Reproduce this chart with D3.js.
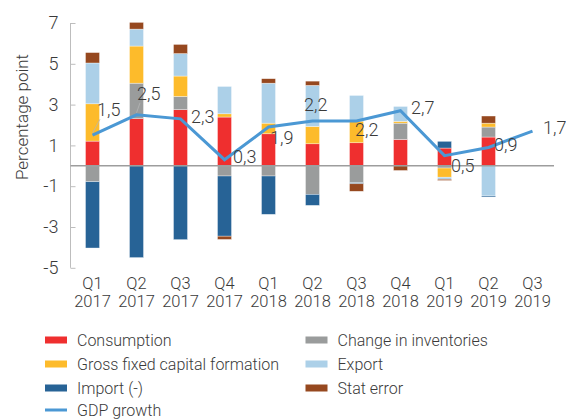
<!DOCTYPE html>
<html>
<head>
<meta charset="utf-8">
<script src="https://cdn.jsdelivr.net/npm/d3@7"></script>
<style>
  body { margin: 0; background: #fff; }
  svg text { font-family: Roboto, "DejaVu Sans", sans-serif; fill: #3a3a3a; font-weight: 300; }
</style>
</head>
<body>
<div class="chart"></div>
<script>
// DATA //
var quarters = ['Q1 2017', 'Q2 2017', 'Q3 2017', 'Q4 2017', 'Q1 2018', 'Q2 2018',
                'Q3 2018', 'Q4 2018', 'Q1 2019', 'Q2 2019', 'Q3 2019'];
var consumption = [1.21, 2.31, 2.75, 2.39, 1.57, 1.08, 1.13, 1.29, 0.87, 1.41, 0];
var inventories = [-0.78, 1.74, 0.65, -0.50, -0.50, -1.40, -0.83, 0.80, -0.11, 0.49, 0];
var gfcf        = [1.83, 1.82, 1.00, 0.16, 0.52, 0.85, 1.06, 0.09, -0.45, 0.19, 0];
var exports_    = [2.00, 0.83, 1.10, 1.34, 1.96, 2.01, 1.26, 0.73, -0.10, -1.48, 0];
var imports_    = [-3.25, -4.50, -3.62, -2.95, -1.88, -0.54, -0.05, 0, 0.33, -0.05, 0];
var statError   = [0.51, 0.33, 0.45, -0.16, 0.22, 0.21, -0.37, -0.23, -0.06, 0.35, 0];
var gdpGrowth   = [1.5, 2.5, 2.3, 0.3, 1.9, 2.2, 2.2, 2.7, 0.5, 0.9, 1.7];
var yTicks = [7, 5, 3, 1, -1, -3, -5];

var series = [
  {key: 'Consumption', values: consumption, color: '#ef2f2f'},
  {key: 'Change in inventories', values: inventories, color: '#9a9c9c'},
  {key: 'Gross fixed capital formation', values: gfcf, color: '#fdbb2b'},
  {key: 'Export', values: exports_, color: '#acd0e8'},
  {key: 'Import (-)', values: imports_, color: '#276396'},
  {key: 'Stat error', values: statError, color: '#96481f'}
];

// label offsets (dx, dy) from each GDP point
var labelOffsets = [[4.5, -19], [0.5, -15], [10.5, 4.5], [8.5, 3], [1.5, 16.5], [-8.5, -9.5],
                    [-1.5, 15.5], [10.5, 3.7], [6.5, 16], [5.5, 4], [10.5, 3.3]];

var width = 566, height = 419;
var svg = d3.select('.chart').append('svg')
    .attr('width', width)
    .attr('height', height);

var xScale = d3.scaleBand().domain(quarters).range([70.5, 554.5]);
var yScale = d3.scaleLinear().domain([-5, 7]).range([267.8, 23]);
var barW = 14;

var table = quarters.map(function(q, i) {
    var row = {q: q};
    series.forEach(function(s) { row[s.key] = s.values[i]; });
    return row;
});

var stack = d3.stack()
    .keys(series.map(function(s) { return s.key; }))
    .offset(d3.stackOffsetDiverging);
var stacked = stack(table);

// Y AXIS //
var yAxis = svg.append('g')
    .attr('transform', 'translate(70.5,0)')
    .call(d3.axisLeft(yScale).tickValues(yTicks).tickSize(-5).tickPadding(12)
        .tickFormat(function(d) { return String(d); }));
yAxis.select('.domain').attr('stroke', '#bdbdbd').attr('d', 'M0,' + yScale(7) + 'V' + yScale(-5));
yAxis.selectAll('.tick line').attr('stroke', '#bdbdbd');
yAxis.selectAll('.tick text').style('font-size', '18px').attr('fill', '#3a3a3a');

svg.append('text')
    .attr('transform', 'translate(28,' + 117 + ') rotate(-90)')
    .attr('text-anchor', 'middle')
    .style('font-size', '17px')
    .text('Percentage point');

// BARS //
var groups = svg.selectAll('.series')
    .data(stacked)
    .enter().append('g')
    .attr('fill', function(d, i) { return series[i].color; });

groups.selectAll('rect')
    .data(function(d) { return d; })
    .enter().append('rect')
    .attr('x', function(d) { return xScale(d.data.q) + xScale.bandwidth() / 2 - barW / 2; })
    .attr('width', barW)
    .attr('y', function(d) { return yScale(Math.max(d[0], d[1])); })
    .attr('height', function(d) { return Math.abs(yScale(d[0]) - yScale(d[1])); })
    .attr('stroke', '#fff')
    .attr('stroke-width', 0.6)
    .attr('stroke-opacity', 0.6);

// zero line
svg.append('line')
    .attr('x1', 70.5).attr('x2', 554)
    .attr('y1', yScale(0)).attr('y2', yScale(0))
    .attr('stroke', '#9d9d9d')
    .attr('stroke-width', 1.5);

// X LABELS //
var xLabels = svg.selectAll('.xlab')
    .data(quarters)
    .enter().append('text')
    .attr('text-anchor', 'middle')
    .style('font-size', '16.5px')
    .attr('x', function(d) { return xScale(d) + xScale.bandwidth() / 2; });
xLabels.append('tspan').attr('y', 289).attr('x', function(d) { return xScale(d) + xScale.bandwidth() / 2; })
    .text(function(d) { return d.split(' ')[0]; });
xLabels.append('tspan').attr('y', 307).attr('x', function(d) { return xScale(d) + xScale.bandwidth() / 2; })
    .text(function(d) { return d.split(' ')[1]; });

// GDP LINE //
var line = d3.line()
    .x(function(d, i) { return xScale(quarters[i]) + xScale.bandwidth() / 2; })
    .y(function(d) { return yScale(d); });

svg.append('path')
    .datum(gdpGrowth)
    .attr('fill', 'none')
    .attr('stroke', '#4b98d4')
    .attr('stroke-width', 3)
    .attr('d', line);

// leader lines for first two labels
[0, 1].forEach(function(i) {
    var cx = xScale(quarters[i]) + xScale.bandwidth() / 2, cy = yScale(gdpGrowth[i]);
    svg.append('line')
        .attr('x1', cx).attr('y1', cy - 2)
        .attr('x2', cx + labelOffsets[i][0] + 3).attr('y2', cy + labelOffsets[i][1] + 3)
        .attr('stroke', '#b5b5b5').attr('stroke-width', 0.8);
});

var fmt = d3.format('.1f');
svg.selectAll('.gdplab')
    .data(gdpGrowth)
    .enter().append('text')
    .style('font-size', '18px')
    .attr('x', function(d, i) { return xScale(quarters[i]) + xScale.bandwidth() / 2 + labelOffsets[i][0]; })
    .attr('y', function(d, i) { return yScale(d) + labelOffsets[i][1]; })
    .text(function(d) { return fmt(d).replace('.', ','); });

// LEGEND //
var legendItems = [
  {key: 'Consumption', col: 0, row: 0},
  {key: 'Change in inventories', col: 1, row: 0},
  {key: 'Gross fixed capital formation', col: 0, row: 1},
  {key: 'Export', col: 1, row: 1},
  {key: 'Import (-)', col: 0, row: 2},
  {key: 'Stat error', col: 1, row: 2}
];
var colX = [45, 305.5], rowY = [340, 364, 388, 410];
var legend = svg.append('g');
legendItems.forEach(function(item) {
    var s = series.filter(function(d) { return d.key === item.key; })[0];
    legend.append('rect')
        .attr('x', colX[item.col]).attr('y', rowY[item.row] - 3.5)
        .attr('width', 22).attr('height', 7)
        .attr('fill', s.color);
    legend.append('text')
        .attr('x', colX[item.col] + 32).attr('y', rowY[item.row] + 6)
        .style('font-size', '16px')
        .text(item.key);
});
legend.append('line')
    .attr('x1', colX[0]).attr('x2', colX[0] + 22)
    .attr('y1', rowY[3]).attr('y2', rowY[3])
    .attr('stroke', '#4b98d4').attr('stroke-width', 3);
legend.append('text')
    .attr('x', colX[0] + 32).attr('y', rowY[3] + 6)
    .style('font-size', '16px')
    .text('GDP growth');
</script>
</body>
</html>
